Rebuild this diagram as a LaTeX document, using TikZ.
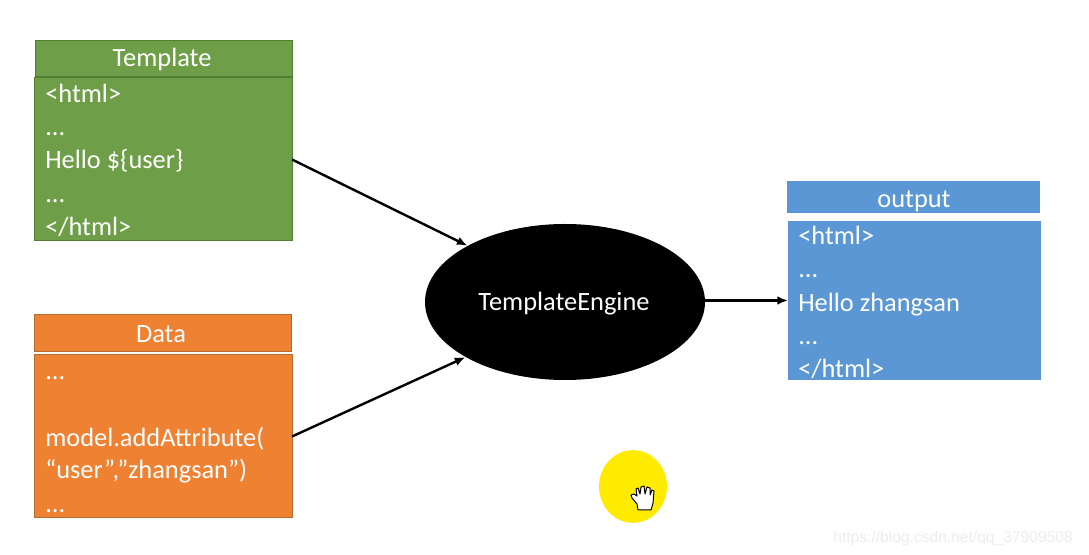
\documentclass[tikz,border=0pt]{standalone}
\usepackage{fontspec}
\setmainfont{Carlito}
\newfontfamily\wmfont{Liberation Sans}
\usetikzlibrary{shapes.geometric,arrows.meta}
\definecolor{grn}{HTML}{6E9F48}
\definecolor{grnd}{HTML}{507E32}
\definecolor{org}{HTML}{EF8133}
\definecolor{orgd}{HTML}{B8692F}
\definecolor{blu}{HTML}{5B97D5}
\definecolor{yel}{HTML}{FFEB00}
\tikzset{
 x=0.75pt,y=-0.75pt,
 box/.style={rectangle,inner sep=0pt,outer sep=0pt,line width=0.75pt},
 greenbox/.style={box,fill=grn,draw=grnd},
 orangebox/.style={box,fill=org,draw=orgd},
 bluebox/.style={box,fill=blu,draw=none},
 title/.style={text=white,font=\fontsize{19.8pt}{19.8pt}\selectfont,inner sep=0pt,anchor=base},
 line/.style={text=white,font=\fontsize{19.8pt}{19.8pt}\selectfont,inner sep=0pt,anchor=base west},
 conn/.style={draw=black,line width=1.8pt,-{Latex[length=8pt,width=6.5pt]}},
}
\newcommand{\bx}[6]{\path (#3,#4) coordinate (#1-a) (#5,#6) coordinate (#1-b);
 \node[#2,minimum width=#5*0.75pt-#3*0.75pt,minimum height=#6*0.75pt-#4*0.75pt,anchor=north west] (#1) at (#3,#4) {};}
\begin{document}
\begin{tikzpicture}
\useasboundingbox (0,0) rectangle (1089,555);
\fill[white] (0,0) rectangle (1089,555);
% boxes
\bx{th}{greenbox}{35}{41}{292}{77}
\bx{tb}{greenbox}{34}{78}{292}{241}
\bx{dh}{orangebox}{34}{315}{291}{352}
\bx{db}{orangebox}{34}{355}{292}{518}
\bx{oh}{bluebox}{787}{181}{1040}{213}
\bx{ob}{bluebox}{788}{221}{1041}{380}
\node[ellipse,fill=black,inner sep=0pt,minimum width=210pt,minimum height=117pt] (engine) at (565,302) {};
% texts
\node[title] (t0) at (162,67) {Template};
\node[line] (t1) at (45,103) {<html>};
\node[line] (t2) at (45,136) {...};
\node[line] (t3) at (45,169) {Hello \$\{user\}};
\node[line] (t4) at (45,203) {...};
\node[line] (t5) at (45,236) {</html>};
\node[title] (d0) at (161,343) {Data};
\node[line] (d1) at (45,380) {...};
\node[line] (d2) at (45,447) {model.addAttribute(};
\node[line] (d3) at (45,479) {“user”,”zhangsan”)};
\node[line] (d4) at (45,513) {...};
\node[title] (o0) at (914,208) {output};
\node[line] (o1) at (798,245) {<html>};
\node[line] (o2) at (798,278) {...};
\node[line] (o3) at (798,312) {Hello zhangsan};
\node[line] (o4) at (798,345) {...};
\node[line] (o5) at (798,378) {</html>};
\node[title] (e0) at (564,311) {TemplateEngine};
% connectors
\draw[conn] (tb.east) -- (engine.150);
\draw[conn] (db.east) -- (engine.209);
\draw[conn] (engine.east |- ob.west) -- (ob.west);
% pointer
\node[ellipse,fill=yel,inner sep=0pt,minimum width=51pt,minimum height=54.5pt] (spot) at (633,486.5) {};
\draw[fill=white,draw=black,line width=0.75pt,line join=round]
 (638,510) -- (637,504) -- (632,498) -- (631,495) -- (634,494) -- (637,496)
 -- (636,489) -- (638,488) -- (640,494) -- (641,487) -- (644,486) -- (645,494)
 -- (647,487) -- (650,488) -- (650,495) -- (652,490) -- (654,491) -- (653,503) -- (651,510) -- cycle;
% watermark
\node[text=black!7,font=\wmfont\fontsize{11.7pt}{11.7pt}\selectfont,inner sep=0pt,anchor=base east] (wm) at (1073,543) {https://blog.csdn.net/qq\_37909508};
\end{tikzpicture}
\end{document}
